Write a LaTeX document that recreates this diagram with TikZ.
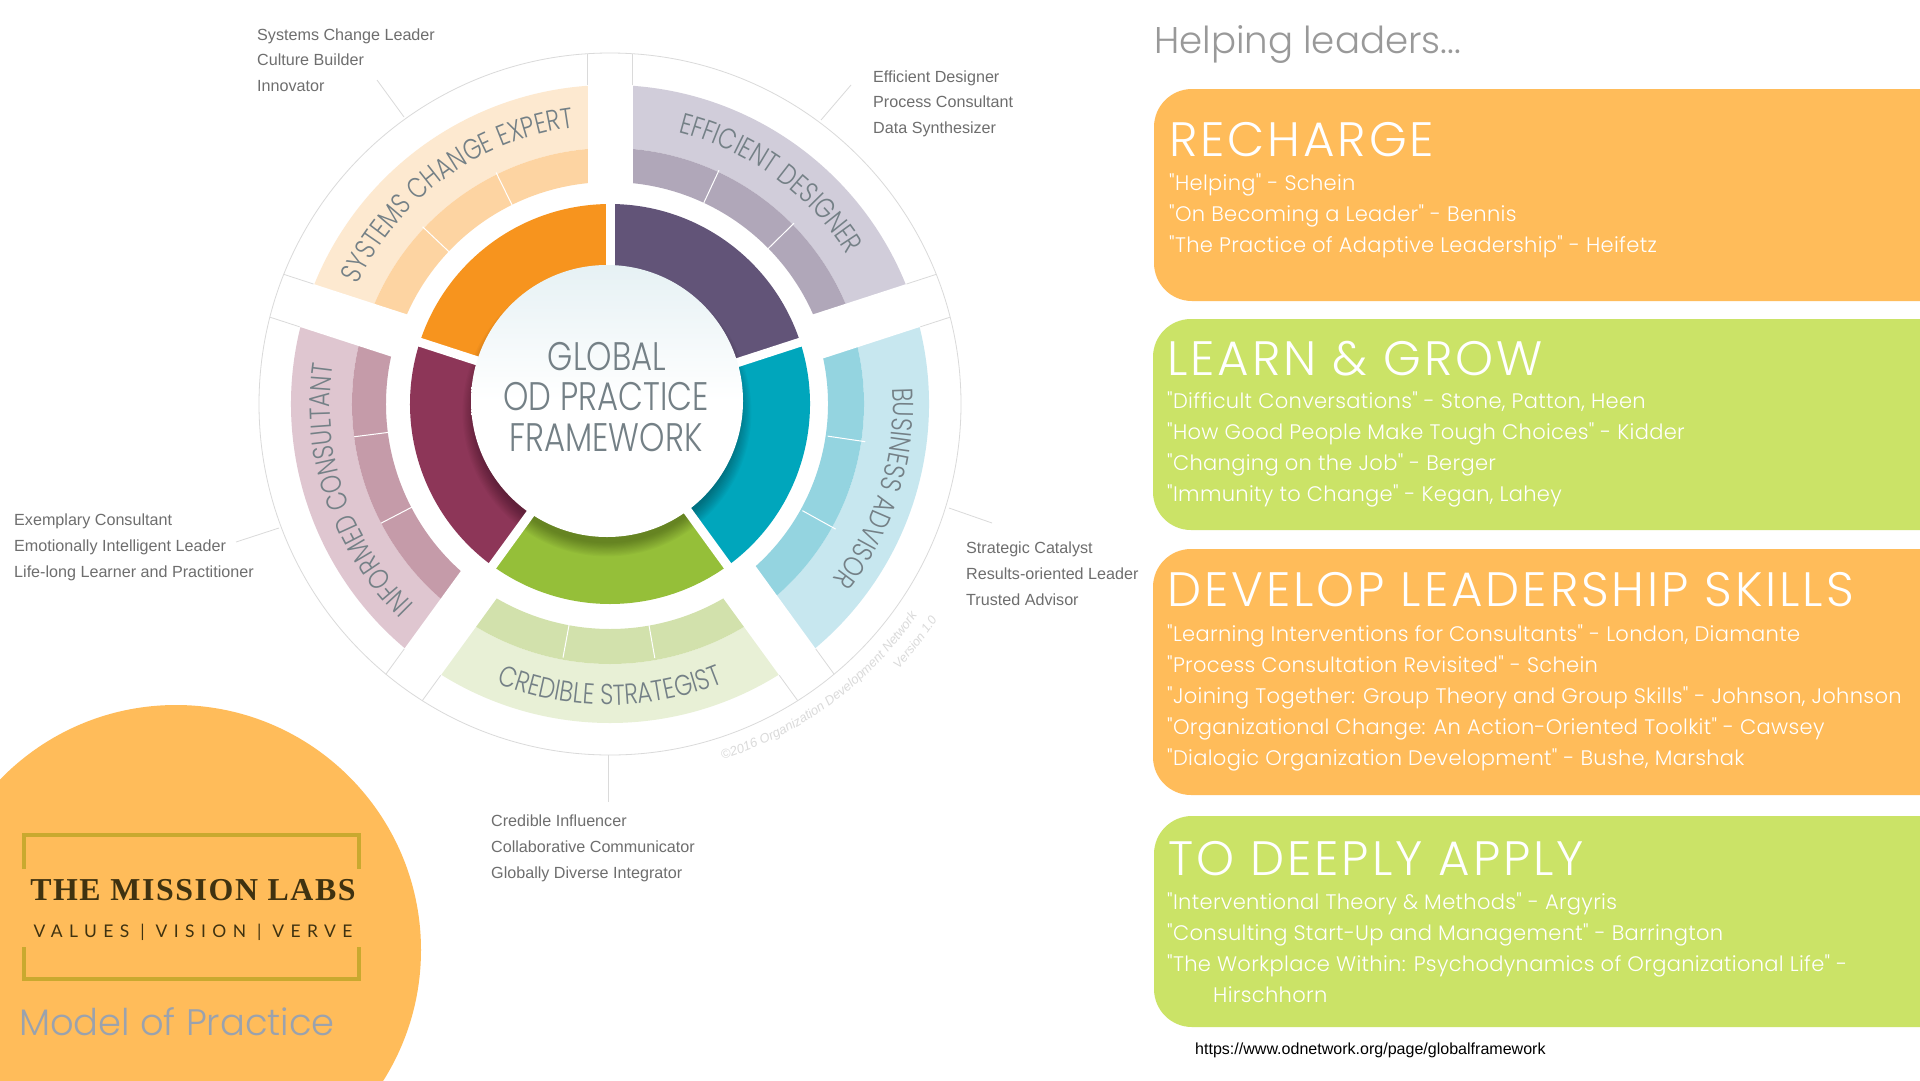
\documentclass[tikz,border=0pt]{standalone}
\usepackage{fontspec}
\usetikzlibrary{decorations.text}
\setmainfont{Poppins Light}
\newfontfamily\pl[LetterSpace=1.5]{Poppins Light}
\newfontfamily\plt[LetterSpace=6]{Poppins Light}
\newfontfamily\plh{Poppins Light}
\newfontfamily\wf[FakeStretch=0.8]{Poppins Light}
\newfontfamily\wfh[FakeStretch=0.81]{Poppins Light}
\newfontfamily\ls{Liberation Sans}
\newfontfamily\lsi{Liberation Sans Italic}
\newfontfamily\lb[LetterSpace=5]{Liberation Serif Bold}
\newfontfamily\lato[LetterSpace=37]{Lato}
\definecolor{panelO}{HTML}{FFBC5A}
\definecolor{panelG}{HTML}{CBE367}
\definecolor{wOrange}{HTML}{F7941E}
\definecolor{wPurple}{HTML}{625478}
\definecolor{wTeal}{HTML}{00A6BC}
\definecolor{wMaroon}{HTML}{8D3658}
\definecolor{wGreen}{HTML}{95BF39}
\definecolor{sysL}{HTML}{FDE9D0}\definecolor{sysD}{HTML}{FDD4A2}
\definecolor{effL}{HTML}{D1CDDA}\definecolor{effD}{HTML}{B0A7B9}
\definecolor{busL}{HTML}{C7E7EF}\definecolor{busD}{HTML}{94D4E0}
\definecolor{infL}{HTML}{DFC6D0}\definecolor{infD}{HTML}{C59BA9}
\definecolor{creL}{HTML}{E8F0D6}\definecolor{creD}{HTML}{D2E1AC}
\definecolor{wtxt}{HTML}{748086}
\definecolor{ringc}{HTML}{DADADA}
\definecolor{lbl}{HTML}{6E6E6E}
\definecolor{logoY}{HTML}{C9A92F}
\definecolor{logoT}{HTML}{3F3210}
\definecolor{modelc}{HTML}{9AA2AE}
\definecolor{hubtop}{HTML}{E6F1F4}
\tikzset{
  panel/.style={rounded corners=38bp,inner sep=0pt},
  lab/.style={anchor=base west,inner sep=0pt,text=lbl,font=\ls\fontsize{16.2}{18}\selectfont},
  ttl/.style={anchor=base west,inner sep=0pt,text=white,font=\plt\fontsize{48.5}{50}\selectfont},
  book/.style={anchor=base west,inner sep=0pt,text=white,font=\pl\fontsize{21.1}{26}\selectfont},
  centre/.style={inner sep=0pt,text=wtxt,font=\wfh\fontsize{40}{42}\selectfont},
  lead/.style={ringc,line width=0.8bp},
  bracket/.style={logoY,line width=4bp,line cap=butt}
}
% \sect{a1}{a2}{r1}{r2}{colour}
\newcommand{\sect}[5]{\fill[#5] (#1:#4) arc[start angle=#1,end angle=#2,radius=#4] -- (#2:#3) arc[start angle=#2,end angle=#1,radius=#3] -- cycle;}
% \arctxt{a1}{a2}{r}{text}
\newcommand{\arctxt}[4]{\path[decorate,decoration={text along path,text align=center,text={|\wf\fontsize{29}{29}\selectfont\color{wtxt}|#4}}] (#1:#3) arc[start angle=#1,end angle=#2,radius=#3];}
\newcommand{\smalltxt}[5]{\path[decorate,decoration={text along path,text align=center,text={|#5\color{ringc}|#4}}] (#1:#3) arc[start angle=#1,end angle=#2,radius=#3];}
\begin{document}
\begin{tikzpicture}[x=1bp,y=-1bp]
\useasboundingbox (0,0) rectangle (1920,1080);
\clip (0,0) rectangle (1920,1080);
\fill[white] (0,0) rectangle (1920,1080);
% ---------- wheel
\begin{scope}[shift={(610,404)},y=1bp]
  % outer bands: light then dark
  \sect{90}{162}{256}{319}{sysL} \sect{90}{162}{222}{256}{sysD}
  \sect{18}{90}{256}{319}{effL}  \sect{18}{90}{222}{256}{effD}
  \sect{-54}{18}{254}{319}{busL} \sect{-54}{18}{218}{254}{busD}
  \sect{-126}{-54}{260}{319}{creL} \sect{-126}{-54}{225}{260}{creD}
  \sect{162}{234}{258}{319}{infL} \sect{162}{234}{224}{258}{infD}
  % dividers
  \foreach \a in {116.2,136.6,65,44.5,-8.4,-29,-100.5,-80,187.3,207.5}{
    \draw[white,line width=1bp] (\a:220) -- (\a:258);
  }
  % gaps in outer ring
  \foreach \a in {90,18,-54,-126,162}{
    \begin{scope}[rotate=\a]
      \fill[white] (206,-22.5) rectangle (345,22.5);
      \draw[lead] (319,-22.5) -- (350.3,-22.5);
      \draw[lead] (319,22.5) -- (350.3,22.5);
    \end{scope}
  }
  \draw[ringc,line width=0.8bp] (0,0) circle (351);
  % inner wedges
  \sect{90}{162}{100}{200}{wOrange}
  \sect{18}{90}{100}{200}{wPurple}
  \sect{-54}{18}{100}{200}{wTeal}
  \sect{-126}{-54}{100}{200}{wGreen}
  \sect{162}{234}{100}{200}{wMaroon}
  % soft shadow of the hub
  \foreach \i in {1,...,12}{
    \fill[black,opacity=0.028] (-3,-8) circle ({130+\i*1.2});
  }
  \foreach \a in {90,18,-54,-126,162}{
    \fill[white,rotate=\a] (120,-4.5) rectangle (205,4.5);
  }
  \shade[top color=hubtop,bottom color=white,middle color=white] (-3,3) circle (136);
  % curved captions
  \arctxt{186}{66}{279}{SYSTEMS CHANGE EXPERT}
  \arctxt{114}{-6}{280}{EFFICIENT DESIGNER}
  \arctxt{42.5}{-77.5}{283}{BUSINESS ADVISOR}
  \arctxt{258.8}{138.8}{280}{INFORMED CONSULTANT}
  \arctxt{210}{330}{301}{CREDIBLE STRATEGIST}
  \smalltxt{-108.5}{1.5}{373}{©2016 Organization Development Network}{\lsi\fontsize{13}{14}\selectfont}
  \smalltxt{-68}{-8}{392}{Version 1.0}{\lsi\fontsize{12.5}{13}\selectfont}
\end{scope}
\node[centre] (hub1) at (607,357) {GLOBAL};
\node[centre] (hub2) at (606,397) {OD PRACTICE};
\node[centre] (hub3) at (606,438) {FRAMEWORK};
% leader lines
\coordinate (ls1) at (377,80);  \coordinate (ls2) at (404,117);
\coordinate (le1) at (851,85);  \coordinate (le2) at (821,120);
\coordinate (lb1) at (949,508); \coordinate (lb2) at (992,523);
\coordinate (li1) at (279,528); \coordinate (li2) at (236,542);
\coordinate (lc1) at (608,755); \coordinate (lc2) at (608,802);
\draw[lead] (ls1) -- (ls2);
\draw[lead] (le1) -- (le2);
\draw[lead] (lb1) -- (lb2);
\draw[lead] (li1) -- (li2);
\draw[lead] (lc1) -- (lc2);
% role labels
\node[lab] (a1) at (257,40) {Systems Change Leader};
\node[lab] (a2) at (257,65) {Culture Builder};
\node[lab] (a3) at (257,91) {Innovator};
\node[lab] (b1) at (873,82) {Efficient Designer};
\node[lab] (b2) at (873,107) {Process Consultant};
\node[lab] (b3) at (873,133) {Data Synthesizer};
\node[lab] (c1) at (966,553) {Strategic Catalyst};
\node[lab] (c2) at (966,579) {Results-oriented Leader};
\node[lab] (c3) at (966,605) {Trusted Advisor};
\node[lab] (d1) at (14,525) {Exemplary Consultant};
\node[lab] (d2) at (14,551) {Emotionally Intelligent Leader};
\node[lab] (d3) at (14,577) {Life-long Learner and Practitioner};
\node[lab] (e1) at (491,826) {Credible Influencer};
\node[lab] (e2) at (491,852) {Collaborative Communicator};
\node[lab] (e3) at (491,878) {Globally Diverse Integrator};
% logo disc
\fill[panelO] (176,950) circle (245);
\draw[bracket] (24,869) -- (24,835) -- (359,835) -- (359,869);
\draw[bracket] (24,947) -- (24,979) -- (359,979) -- (359,947);
\node[inner sep=0pt,text=logoT,font=\lb\fontsize{32}{33}\selectfont] (logo1) at (193,890) {THE MISSION LABS};
\node[inner sep=0pt,text=logoT,font=\lato\fontsize{17.5}{19}\selectfont] (logo2) at (193,932) {VALUES | VISION | VERVE};
\node[anchor=base west,inner sep=0pt,text=modelc,font=\plh\fontsize{37}{42}\selectfont] (model) at (19,1035) {Model of Practice};
% right side
\node[anchor=base west,inner sep=0pt,text=black!40,font=\plh\fontsize{37.3}{42}\selectfont] (help) at (1154,53) {Helping leaders...};
\fill[panelO,panel] (1154,89) rectangle (2000,301);
\fill[panelG,panel] (1153,319) rectangle (2000,530);
\fill[panelO,panel] (1153,549) rectangle (2000,795);
\fill[panelG,panel] (1154,816) rectangle (2000,1027);
\node[ttl] (t1) at (1169,156) {RECHARGE};
\node[book] (t11) at (1169,190) {"Helping" - Schein};
\node[book] (t12) at (1169,221) {"On Becoming a Leader" - Bennis};
\node[book] (t13) at (1169,252) {"The Practice of Adaptive Leadership" - Heifetz};
\node[ttl] (t2) at (1167,375) {LEARN \& GROW};
\node[book] (t21) at (1167,408) {"Difficult Conversations" - Stone, Patton, Heen};
\node[book] (t22) at (1167,439) {"How Good People Make Tough Choices" - Kidder};
\node[book] (t23) at (1167,470) {"Changing on the Job" - Berger};
\node[book] (t24) at (1167,501) {"Immunity to Change" - Kegan, Lahey};
\node[ttl] (t3) at (1167,606) {DEVELOP LEADERSHIP SKILLS};
\node[book] (t31) at (1167,641) {"Learning Interventions for Consultants" - London, Diamante};
\node[book] (t32) at (1167,672) {"Process Consultation Revisited" - Schein};
\node[book] (t33) at (1167,703) {"Joining Together: Group Theory and Group Skills" - Johnson, Johnson};
\node[book] (t34) at (1167,734) {"Organizational Change: An Action-Oriented Toolkit" - Cawsey};
\node[book] (t35) at (1167,765) {"Dialogic Organization Development" - Bushe, Marshak};
\node[ttl] (t4) at (1168,875) {TO DEEPLY APPLY};
\node[book] (t41) at (1167,909) {"Interventional Theory \& Methods" - Argyris};
\node[book] (t42) at (1167,940) {"Consulting Start-Up and Management" - Barrington};
\node[book] (t43) at (1167,971) {"The Workplace Within: Psychodynamics of Organizational Life" -};
\node[book] (t44) at (1213,1002) {Hirschhorn};
\node[anchor=base west,inner sep=0pt,text=black,font=\ls\fontsize{16.1}{18}\selectfont] (url) at (1195,1054) {https://www.odnetwork.org/page/globalframework};
\end{tikzpicture}
\end{document}
